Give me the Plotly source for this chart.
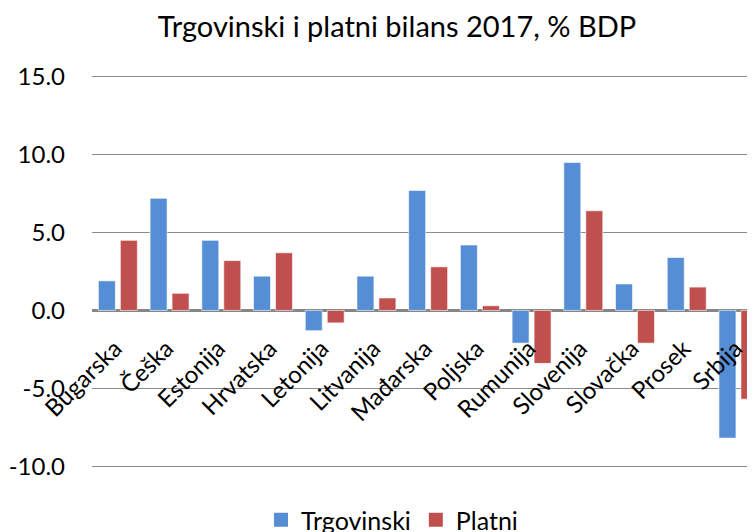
import plotly.graph_objects as go

categories = ["Bugarska", "Češka", "Estonija", "Hrvatska", "Letonija", "Litvanija",
              "Mađarska", "Poljska", "Rumunija", "Slovenija", "Slovačka", "Prosek", "Srbija"]
trgovinski = [1.9, 7.2, 4.5, 2.2, -1.3, 2.2, 7.7, 4.2, -2.1, 9.5, 1.7, 3.4, -8.2]
platni = [4.5, 1.1, 3.2, 3.7, -0.8, 0.8, 2.8, 0.3, -3.4, 6.4, -2.1, 1.5, -5.7]
series_names = ["Trgovinski", "Platni"]
y_ticks = [-10, -5, 0, 5, 10, 15]
y_tick_text = ["-10.0", "-5.0", "0.0", "5.0", "10.0", "15.0"]

FONT = "Lato"
colors = ["#558ED5", "#C0504D"]

# page body has an 8px margin, so figure coordinates are offset by 8px
W, H = 747, 532

fig = go.Figure()
for name, vals, col in zip(series_names, [trgovinski, platni], colors):
    fig.add_trace(go.Bar(name=name, x=categories, y=vals, showlegend=False,
                         marker=dict(color=col, line=dict(color="rgba(255,255,255,0.6)", width=1))))
# legend-only entries with square swatches
for name, col in zip(series_names, colors):
    fig.add_trace(go.Scatter(name=name, x=[None], y=[None], mode="markers",
                             marker=dict(symbol="square", size=14, color=col), showlegend=True))

fig.update_layout(
    width=W, height=H,
    margin=dict(l=84, r=0, t=67, b=72, autoexpand=False),
    paper_bgcolor="white", plot_bgcolor="white",
    barmode="group", bargap=0.15, bargroupgap=0.227,
    title=dict(text="Trgovinski i platni bilans 2017, % BDP", x=389/W, xref="container",
               xanchor="center", y=1 - 19/H, yref="container", yanchor="middle",
               font=dict(family=FONT, size=29, color="#000000")),
    font=dict(family=FONT, size=24, color="#000000"),
    showlegend=True,
    legend=dict(orientation="h", x=384/W, xref="container", xanchor="center",
                y=1 - 512/H, yref="container", yanchor="middle",
                font=dict(family=FONT, size=25, color="#000000"),
                itemwidth=30, tracegroupgap=0, itemsizing="trace"),
)
fig.update_xaxes(
    range=[-0.5, 12.32], anchor="free", position=0.4, automargin=False,
    tickangle=-45, showgrid=False, showline=False, ticks="",
    ticklabelstandoff=18, ticklabelshift=-3,
    tickfont=dict(family=FONT, size=24, color="#000000"),
)
fig.update_yaxes(
    range=[-10.12, 15.12], tickvals=y_ticks, ticktext=y_tick_text, automargin=False,
    showgrid=True, gridcolor="#8C8C8C", gridwidth=1.3,
    zeroline=True, zerolinecolor="#868686", zerolinewidth=2.5,
    ticklabelstandoff=26, showline=False,
    tickfont=dict(family=FONT, size=24, color="#000000"),
)

fig.write_html("out.html")
